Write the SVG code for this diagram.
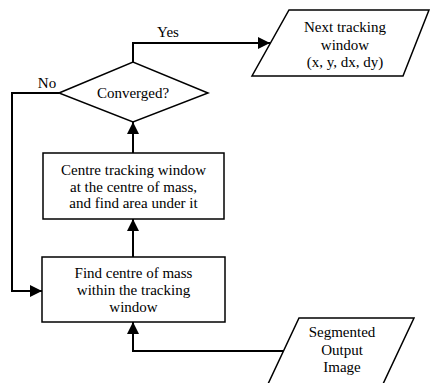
<svg xmlns="http://www.w3.org/2000/svg" width="430" height="383" viewBox="0 0 430 383">
<style>
.shape{fill:#fff;stroke:#000;stroke-width:1.5}
.conn{fill:none;stroke:#000;stroke-width:2}
text{font-family:'Liberation Serif','Times New Roman','DejaVu Serif',serif;font-size:15px;fill:#000;text-anchor:middle}
</style>
<defs>
<marker id="arr" markerUnits="userSpaceOnUse" markerWidth="12" markerHeight="12" refX="12" refY="6" orient="auto">
<path d="M0,0 L12,6 L0,12 z" fill="#000"/>
</marker>
</defs>
<rect width="430" height="383" fill="#fff"/>
<g id="connectors">
<polyline class="conn" points="133,62 133,43 270,43" marker-end="url(#arr)"/>
<polyline class="conn" points="59,93 12,93 12,291 42,291" marker-end="url(#arr)"/>
<line class="conn" x1="133" y1="153" x2="133" y2="122" marker-end="url(#arr)"/>
<line class="conn" x1="133" y1="257" x2="133" y2="219" marker-end="url(#arr)"/>
<polyline class="conn" points="283,351 133,351 133,322" marker-end="url(#arr)"/>
<text x="168" y="37">Yes</text>
<text x="47" y="88">No</text>
</g>
<g id="next-window">
<polygon class="shape" points="289,10 429,10 403,76 252,76"/>
<text x="345" y="32">Next tracking</text>
<text x="345" y="49.5">window</text>
<text x="345" y="67">(x, y, dx, dy)</text>
</g>
<g id="converged">
<polygon class="shape" points="59,93 133,62 208,93 133,122"/>
<text x="133" y="98">Converged?</text>
</g>
<g id="centre-window">
<rect class="shape" x="43" y="153" width="181" height="66"/>
<text x="133.5" y="175">Centre tracking window</text>
<text x="133.5" y="191.5">at the centre of mass,</text>
<text x="133.5" y="208">and find area under it</text>
</g>
<g id="find-centre">
<rect class="shape" x="42" y="257" width="183" height="65"/>
<text x="133.5" y="278">Find centre of mass</text>
<text x="133.5" y="295">within the tracking</text>
<text x="133.5" y="312">window</text>
</g>
<g id="segmented">
<polygon class="shape" points="299,318 414,318 383,384 268,384"/>
<text x="342" y="337">Segmented</text>
<text x="342" y="355">Output</text>
<text x="342" y="372">Image</text>
</g>
</svg>
